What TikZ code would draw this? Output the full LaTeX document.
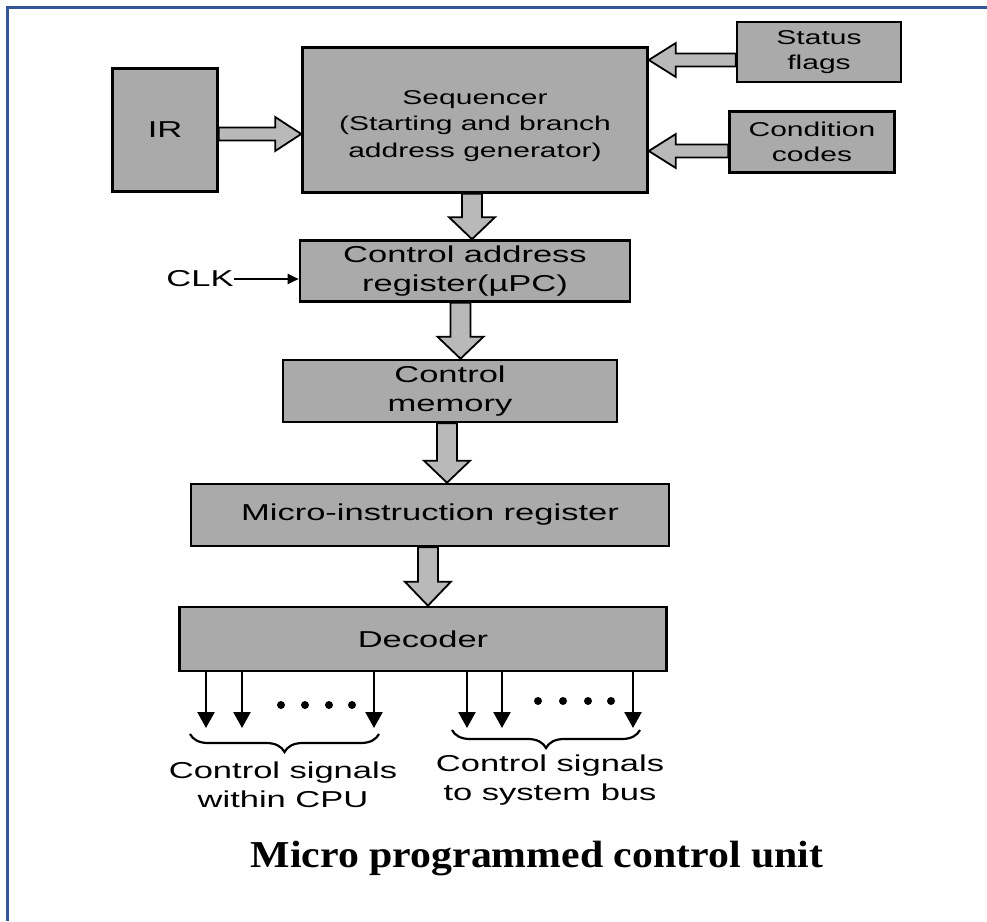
\documentclass[tikz,border=0pt]{standalone}
\usepackage{fontspec}
\usetikzlibrary{calc,arrows.meta,decorations.pathreplacing}
\newfontfamily\boxfont[FakeStretch=1.5]{Liberation Sans}
\newfontfamily\seqfont[FakeStretch=1.5]{Liberation Sans}
\newfontfamily\capfont[FakeStretch=1.1]{Liberation Serif}

\definecolor{boxgray}{RGB}{170,170,170}
\definecolor{arrowgray}{RGB}{185,185,185}
\definecolor{frameblue}{RGB}{52,86,152}

% hollow block arrow from #1 to #2 (shaft half width, wing half width, head length)
\newcommand{\fatarrow}[5]{%
  \coordinate (fa-s) at (#1);
  \coordinate (fa-e) at (#2);
  \coordinate (fa-h) at ($(fa-e)!#5!(fa-s)$);
  \filldraw[blockarrow]
    ($(fa-s)!#3!90:(fa-e)$) -- ($(fa-h)!#3!90:(fa-e)$) --
    ($(fa-h)!#4!90:(fa-e)$) -- (fa-e) --
    ($(fa-h)!#4!-90:(fa-e)$) -- ($(fa-h)!#3!-90:(fa-e)$) --
    ($(fa-s)!#3!-90:(fa-e)$) -- cycle;
}

\begin{document}
\begin{tikzpicture}[x=1pt,y=-1pt,
  blk/.style={draw=black, line width=2.6pt, fill=boxgray, inner sep=0pt,
    align=center, font=\boxfont\fontsize{23}{28.5}\selectfont},
  smallblk/.style={blk, font=\boxfont\fontsize{20}{25.5}\selectfont},
  blockarrow/.style={draw=black, line width=1.8pt, fill=arrowgray, line join=miter},
  sig/.style={line width=2.4pt, -{Triangle[length=16pt,width=17pt]}},
  clkarrow/.style={line width=2pt, -{Triangle[length=11pt,width=10pt]}},
  lbl/.style={align=center, inner sep=0pt, font=\boxfont\fontsize{23}{28.5}\selectfont},
  brc/.style={line width=2.2pt, decorate,
    decoration={brace, mirror, amplitude=18pt}},
  dot/.style={fill=black},
  frame/.style={draw=frameblue, line width=3pt}
]
\useasboundingbox (0,0) rectangle (987,921);

% page frame (top and left rules)
\draw[frame] (7,921) -- (7,7) -- (987,7);

% blocks
\node[blk, minimum width=105pt, minimum height=123pt] (ir) at (165,130) {IR};
\node[blk, font=\seqfont\fontsize{20}{26.5}\selectfont,
      minimum width=345pt, minimum height=145pt] (seq) at (475,120)
      {\rule{0pt}{26pt}Sequencer\\(Starting and branch\\address generator)};
\node[smallblk, minimum width=164pt, minimum height=60pt] (stat) at (819,52) {Status\\flags};
\node[smallblk, minimum width=165pt, minimum height=61pt] (cond) at (812,142) {Condition\\codes};
\node[blk, minimum width=330pt, minimum height=61pt] (car) at (465,271)
      {Control address\\register(µPC)};
\node[blk, minimum width=334pt, minimum height=62pt] (cm) at (450,391) {Control\\memory};
\node[blk, minimum width=478pt, minimum height=62pt] (mir) at (430,515)
      {Micro-instruction register};
\node[blk, minimum width=487pt, minimum height=64pt] (dec) at (423,639) {Decoder};

% clock input
\node[lbl] (clk) at (200,279) {CLK};
\draw[clkarrow] (clk.east) -- (clk.east -| car.west);

% block arrows into the sequencer
\coordinate (irout) at ($(ir.east)+(0,4)$);
\fatarrow{irout}{irout -| seq.west}{6.5pt}{17pt}{26pt}
\coordinate (statout) at ($(stat.west)+(0,8)$);
\fatarrow{statout}{statout -| seq.east}{6.5pt}{17pt}{27pt}
\coordinate (condout) at ($(cond.west)+(0,9)$);
\fatarrow{condout}{condout -| seq.east}{6.5pt}{17pt}{27pt}

% block arrows down the chain
\coordinate (m1) at ($(seq.south)!.3!(car.north)$);
\fatarrow{m1 |- seq.south}{m1 |- car.north}{10pt}{23pt}{22pt}
\coordinate (m2) at ($(car.south)!.3!(cm.north)$);
\fatarrow{m2 |- car.south}{m2 |- cm.north}{10pt}{23pt}{22pt}
\coordinate (m3) at ($(cm.south)!.15!(mir.north)$);
\fatarrow{m3 |- cm.south}{m3 |- mir.north}{10pt}{23pt}{22pt}
\coordinate (m4) at ($(mir.south)!.3!(dec.north)$);
\fatarrow{m4 |- mir.south}{m4 |- dec.north}{10pt}{23pt}{24pt}

% decoder outputs
\foreach \n/\x in {a1/206, a2/242, a3/374, b1/467, b2/502, b3/633}{
  \coordinate (\n) at (\x,728);
  \draw[sig] (\n |- dec.south) -- (\n);
}
\foreach \x in {281,305,329,352}{ \fill[dot] (\x,705) circle (4pt); }
\foreach \x in {538,563,588,611}{ \fill[dot] (\x,701) circle (4pt); }

% groupings
\coordinate (bra1) at (190,734);
\coordinate (bra2) at (379,734);
\coordinate (brb1) at (452,730);
\coordinate (brb2) at (640,730);
\draw[brc] (bra1) -- (bra2);
\draw[brc] (brb1) -- (brb2);

\node[lbl] (lcpu) at (283,785) {Control signals\\within CPU};
\node[lbl] (lbus) at (550,780) {Control signals\\to system bus};

% caption
\node[inner sep=0pt, font=\capfont\bfseries\fontsize{38}{44}\selectfont] (cap) at (537,858)
  {Micro programmed control unit};
\end{tikzpicture}
\end{document}
